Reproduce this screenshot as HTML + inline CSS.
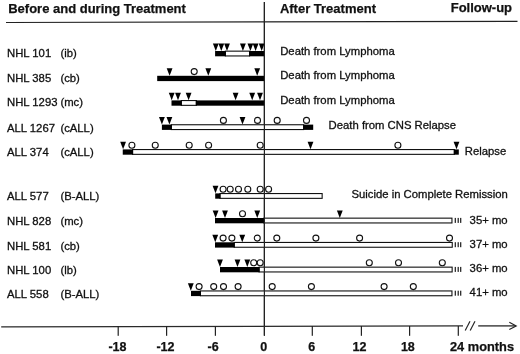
<!DOCTYPE html><html><head><meta charset="utf-8"><style>html,body{margin:0;padding:0;background:#fff;}svg{display:block;will-change:transform;}text{font-family:"Liberation Sans",sans-serif;fill:#111;} .r{stroke:#111;stroke-width:0.3px;} .b{stroke:#111;stroke-width:0.25px;}</style></head><body>
<svg width="520" height="354" viewBox="0 0 520 354">
<rect width="520" height="354" fill="#fff"/>
<text x="8.2" y="13.1" font-size="13" font-weight="bold" class="b">Before and during Treatment</text>
<text x="279.9" y="12.7" font-size="13" font-weight="bold" class="b">After Treatment</text>
<text x="450.7" y="12.4" font-size="13" font-weight="bold" class="b">Follow-up</text>
<line x1="6" y1="22.5" x2="517.5" y2="21.3" stroke="#222" stroke-width="1.2"/>
<rect x="263.80" y="2" width="1.2" height="333.7" fill="#222"/>
<text x="7" y="57.3" font-size="11.3" class="r">NHL 101</text>
<text x="60.4" y="57.3" font-size="11.3" class="r">(ib)</text>
<rect x="225.35" y="51.15" width="24.20" height="4.80" fill="#fff" stroke="#111" stroke-width="1.1"/>
<rect x="215.10" y="51.00" width="10.80" height="5.3" fill="#000"/>
<rect x="249.00" y="51.00" width="15.40" height="5.3" fill="#000"/>
<polygon points="212.90,43.40 218.70,43.40 215.80,50.90" fill="#000"/>
<polygon points="218.40,43.40 224.20,43.40 221.30,50.90" fill="#000"/>
<polygon points="224.10,43.40 229.90,43.40 227.00,50.90" fill="#000"/>
<polygon points="240.00,43.40 245.80,43.40 242.90,50.90" fill="#000"/>
<polygon points="247.50,43.40 253.30,43.40 250.40,50.90" fill="#000"/>
<polygon points="252.70,43.40 258.50,43.40 255.60,50.90" fill="#000"/>
<polygon points="258.80,43.40 264.60,43.40 261.70,50.90" fill="#000"/>
<text x="280.2" y="55.0" font-size="11.3" class="r">Death from Lymphoma</text>
<text x="7" y="82.3" font-size="11.3" class="r">NHL 385</text>
<text x="60.4" y="82.3" font-size="11.3" class="r">(cb)</text>
<rect x="157.20" y="75.80" width="107.20" height="5.3" fill="#000"/>
<polygon points="166.70,68.20 172.50,68.20 169.60,75.70" fill="#000"/>
<polygon points="205.40,68.20 211.20,68.20 208.30,75.70" fill="#000"/>
<polygon points="254.30,68.20 260.10,68.20 257.20,75.70" fill="#000"/>
<circle cx="194.20" cy="71.60" r="3.0" fill="#fff" stroke="#111" stroke-width="1.1"/>
<text x="280.2" y="79.3" font-size="11.3" class="r">Death from Lymphoma</text>
<text x="7" y="106.4" font-size="11.3" class="r">NHL 1293</text>
<text x="60.4" y="106.4" font-size="11.3" class="r">(mc)</text>
<rect x="181.25" y="100.55" width="15.10" height="4.80" fill="#fff" stroke="#111" stroke-width="1.1"/>
<rect x="171.50" y="100.40" width="10.30" height="5.3" fill="#000"/>
<rect x="195.80" y="100.40" width="68.60" height="5.3" fill="#000"/>
<polygon points="168.80,92.80 174.60,92.80 171.70,100.30" fill="#000"/>
<polygon points="175.10,92.80 180.90,92.80 178.00,100.30" fill="#000"/>
<polygon points="185.70,92.80 191.50,92.80 188.60,100.30" fill="#000"/>
<polygon points="232.70,92.80 238.50,92.80 235.60,100.30" fill="#000"/>
<polygon points="249.30,92.80 255.10,92.80 252.20,100.30" fill="#000"/>
<polygon points="257.10,92.80 262.90,92.80 260.00,100.30" fill="#000"/>
<text x="280.2" y="103.7" font-size="11.3" class="r">Death from Lymphoma</text>
<text x="7" y="132.0" font-size="11.3" class="r">ALL 1267</text>
<text x="60.4" y="132.0" font-size="11.3" class="r">(cALL)</text>
<rect x="171.35" y="124.75" width="132.30" height="4.80" fill="#fff" stroke="#111" stroke-width="1.1"/>
<rect x="161.90" y="124.60" width="10.00" height="5.3" fill="#000"/>
<rect x="303.10" y="124.60" width="10.10" height="5.3" fill="#000"/>
<polygon points="159.00,117.00 164.80,117.00 161.90,124.50" fill="#000"/>
<polygon points="166.50,117.00 172.30,117.00 169.40,124.50" fill="#000"/>
<polygon points="239.60,117.00 245.40,117.00 242.50,124.50" fill="#000"/>
<circle cx="223.40" cy="120.40" r="3.0" fill="#fff" stroke="#111" stroke-width="1.1"/>
<circle cx="257.50" cy="120.40" r="3.0" fill="#fff" stroke="#111" stroke-width="1.1"/>
<circle cx="277.20" cy="120.40" r="3.0" fill="#fff" stroke="#111" stroke-width="1.1"/>
<circle cx="306.50" cy="120.40" r="3.0" fill="#fff" stroke="#111" stroke-width="1.1"/>
<text x="328.6" y="129.2" font-size="11.3" class="r">Death from CNS Relapse</text>
<text x="7" y="156.0" font-size="11.3" class="r">ALL 374</text>
<text x="60.4" y="156.0" font-size="11.3" class="r">(cALL)</text>
<rect x="132.55" y="149.55" width="321.80" height="4.80" fill="#fff" stroke="#111" stroke-width="1.1"/>
<rect x="122.75" y="149.40" width="10.35" height="5.3" fill="#000"/>
<rect x="453.80" y="149.40" width="5.00" height="5.3" fill="#000"/>
<polygon points="120.20,141.80 126.00,141.80 123.10,149.30" fill="#000"/>
<polygon points="307.60,141.80 313.40,141.80 310.50,149.30" fill="#000"/>
<polygon points="453.60,141.80 459.40,141.80 456.50,149.30" fill="#000"/>
<circle cx="131.90" cy="145.20" r="3.0" fill="#fff" stroke="#111" stroke-width="1.1"/>
<circle cx="155.25" cy="145.20" r="3.0" fill="#fff" stroke="#111" stroke-width="1.1"/>
<circle cx="189.20" cy="145.20" r="3.0" fill="#fff" stroke="#111" stroke-width="1.1"/>
<circle cx="208.60" cy="145.20" r="3.0" fill="#fff" stroke="#111" stroke-width="1.1"/>
<circle cx="260.20" cy="145.20" r="3.0" fill="#fff" stroke="#111" stroke-width="1.1"/>
<circle cx="397.90" cy="145.20" r="3.0" fill="#fff" stroke="#111" stroke-width="1.1"/>
<text x="464.8" y="155.0" font-size="11.3" class="r">Relapse</text>
<text x="7" y="200.2" font-size="11.3" class="r">ALL 577</text>
<text x="60.4" y="200.2" font-size="11.3" class="r">(B-ALL)</text>
<rect x="219.95" y="193.55" width="102.20" height="4.80" fill="#fff" stroke="#111" stroke-width="1.1"/>
<rect x="215.20" y="193.40" width="5.30" height="5.3" fill="#000"/>
<polygon points="212.60,185.80 218.40,185.80 215.50,193.30" fill="#000"/>
<circle cx="223.10" cy="189.20" r="3.0" fill="#fff" stroke="#111" stroke-width="1.1"/>
<circle cx="230.20" cy="189.20" r="3.0" fill="#fff" stroke="#111" stroke-width="1.1"/>
<circle cx="238.50" cy="189.20" r="3.0" fill="#fff" stroke="#111" stroke-width="1.1"/>
<circle cx="247.80" cy="189.20" r="3.0" fill="#fff" stroke="#111" stroke-width="1.1"/>
<circle cx="260.20" cy="189.20" r="3.0" fill="#fff" stroke="#111" stroke-width="1.1"/>
<circle cx="268.60" cy="189.20" r="3.0" fill="#fff" stroke="#111" stroke-width="1.1"/>
<text x="351.5" y="198.0" font-size="11.3" class="r">Suicide in Complete Remission</text>
<text x="7" y="225.2" font-size="11.3" class="r">NHL 828</text>
<text x="60.4" y="225.2" font-size="11.3" class="r">(mc)</text>
<rect x="263.85" y="218.15" width="188.10" height="4.80" fill="#fff" stroke="#111" stroke-width="1.1"/>
<rect x="215.00" y="218.00" width="49.40" height="5.3" fill="#000"/>
<polygon points="212.70,210.40 218.50,210.40 215.60,217.90" fill="#000"/>
<polygon points="222.10,210.40 227.90,210.40 225.00,217.90" fill="#000"/>
<polygon points="254.35,210.40 260.15,210.40 257.25,217.90" fill="#000"/>
<polygon points="336.90,210.40 342.70,210.40 339.80,217.90" fill="#000"/>
<circle cx="242.50" cy="213.80" r="3.0" fill="#fff" stroke="#111" stroke-width="1.1"/>
<rect x="454.70" y="217.90" width="1.2" height="5.0" fill="#1a1a1a"/>
<rect x="457.60" y="217.90" width="1.2" height="5.0" fill="#1a1a1a"/>
<rect x="460.10" y="217.90" width="1.2" height="5.0" fill="#1a1a1a"/>
<text x="469.6" y="223.6" font-size="11.3" class="r">35+ mo</text>
<text x="7" y="249.7" font-size="11.3" class="r">NHL 581</text>
<text x="60.4" y="249.7" font-size="11.3" class="r">(cb)</text>
<rect x="234.20" y="242.45" width="218.05" height="4.80" fill="#fff" stroke="#111" stroke-width="1.1"/>
<rect x="215.00" y="242.30" width="19.75" height="5.3" fill="#000"/>
<polygon points="212.35,234.70 218.15,234.70 215.25,242.20" fill="#000"/>
<polygon points="239.35,234.70 245.15,234.70 242.25,242.20" fill="#000"/>
<circle cx="223.10" cy="238.10" r="3.0" fill="#fff" stroke="#111" stroke-width="1.1"/>
<circle cx="231.90" cy="238.10" r="3.0" fill="#fff" stroke="#111" stroke-width="1.1"/>
<circle cx="257.25" cy="238.10" r="3.0" fill="#fff" stroke="#111" stroke-width="1.1"/>
<circle cx="276.80" cy="238.10" r="3.0" fill="#fff" stroke="#111" stroke-width="1.1"/>
<circle cx="315.90" cy="238.10" r="3.0" fill="#fff" stroke="#111" stroke-width="1.1"/>
<circle cx="359.60" cy="238.10" r="3.0" fill="#fff" stroke="#111" stroke-width="1.1"/>
<circle cx="449.50" cy="238.10" r="3.0" fill="#fff" stroke="#111" stroke-width="1.1"/>
<rect x="454.70" y="242.20" width="1.2" height="5.0" fill="#1a1a1a"/>
<rect x="457.60" y="242.20" width="1.2" height="5.0" fill="#1a1a1a"/>
<rect x="460.10" y="242.20" width="1.2" height="5.0" fill="#1a1a1a"/>
<text x="469.6" y="248.0" font-size="11.3" class="r">37+ mo</text>
<text x="7" y="273.7" font-size="11.3" class="r">NHL 100</text>
<text x="60.4" y="273.7" font-size="11.3" class="r">(lb)</text>
<rect x="259.05" y="267.15" width="193.10" height="4.80" fill="#fff" stroke="#111" stroke-width="1.1"/>
<rect x="220.00" y="267.00" width="39.60" height="5.3" fill="#000"/>
<polygon points="217.10,259.40 222.90,259.40 220.00,266.90" fill="#000"/>
<polygon points="234.60,259.40 240.40,259.40 237.50,266.90" fill="#000"/>
<polygon points="244.40,259.40 250.20,259.40 247.30,266.90" fill="#000"/>
<circle cx="253.70" cy="262.80" r="3.0" fill="#fff" stroke="#111" stroke-width="1.1"/>
<circle cx="260.20" cy="262.80" r="3.0" fill="#fff" stroke="#111" stroke-width="1.1"/>
<circle cx="369.30" cy="262.80" r="3.0" fill="#fff" stroke="#111" stroke-width="1.1"/>
<circle cx="398.50" cy="262.80" r="3.0" fill="#fff" stroke="#111" stroke-width="1.1"/>
<circle cx="442.30" cy="262.80" r="3.0" fill="#fff" stroke="#111" stroke-width="1.1"/>
<rect x="454.70" y="266.90" width="1.2" height="5.0" fill="#1a1a1a"/>
<rect x="457.60" y="266.90" width="1.2" height="5.0" fill="#1a1a1a"/>
<rect x="460.10" y="266.90" width="1.2" height="5.0" fill="#1a1a1a"/>
<text x="469.6" y="272.2" font-size="11.3" class="r">36+ mo</text>
<text x="7" y="297.9" font-size="11.3" class="r">ALL 558</text>
<text x="60.4" y="297.9" font-size="11.3" class="r">(B-ALL)</text>
<rect x="200.45" y="290.95" width="251.50" height="4.80" fill="#fff" stroke="#111" stroke-width="1.1"/>
<rect x="191.00" y="290.80" width="10.00" height="5.3" fill="#000"/>
<polygon points="187.90,283.20 193.70,283.20 190.80,290.70" fill="#000"/>
<circle cx="199.10" cy="286.60" r="3.0" fill="#fff" stroke="#111" stroke-width="1.1"/>
<circle cx="213.70" cy="286.60" r="3.0" fill="#fff" stroke="#111" stroke-width="1.1"/>
<circle cx="223.50" cy="286.60" r="3.0" fill="#fff" stroke="#111" stroke-width="1.1"/>
<circle cx="238.10" cy="286.60" r="3.0" fill="#fff" stroke="#111" stroke-width="1.1"/>
<circle cx="272.20" cy="286.60" r="3.0" fill="#fff" stroke="#111" stroke-width="1.1"/>
<circle cx="311.40" cy="286.60" r="3.0" fill="#fff" stroke="#111" stroke-width="1.1"/>
<circle cx="384.10" cy="286.60" r="3.0" fill="#fff" stroke="#111" stroke-width="1.1"/>
<circle cx="413.30" cy="286.60" r="3.0" fill="#fff" stroke="#111" stroke-width="1.1"/>
<rect x="454.70" y="290.70" width="1.2" height="5.0" fill="#1a1a1a"/>
<rect x="457.60" y="290.70" width="1.2" height="5.0" fill="#1a1a1a"/>
<rect x="460.10" y="290.70" width="1.2" height="5.0" fill="#1a1a1a"/>
<text x="469.6" y="296.4" font-size="11.3" class="r">41+ mo</text>
<rect x="263.80" y="2" width="1.2" height="333.7" fill="#222"/>
<line x1="1.2" y1="326.9" x2="463" y2="325.8" stroke="#2a2a2a" stroke-width="1.25"/>
<rect x="117.60" y="326" width="1.2" height="9.8" fill="#222"/>
<rect x="166.00" y="326" width="1.2" height="9.8" fill="#222"/>
<rect x="214.80" y="326" width="1.2" height="9.8" fill="#222"/>
<rect x="311.70" y="326" width="1.2" height="9.8" fill="#222"/>
<rect x="360.80" y="326" width="1.2" height="9.8" fill="#222"/>
<rect x="409.00" y="326" width="1.2" height="9.8" fill="#222"/>
<rect x="457.70" y="326" width="1.2" height="9.8" fill="#222"/>
<text x="108.40" y="351.3" font-size="12.5" font-weight="bold" class="b">-18</text>
<text x="156.40" y="351.3" font-size="12.5" font-weight="bold" class="b">-12</text>
<text x="207.50" y="351.3" font-size="12.5" font-weight="bold" class="b">-6</text>
<text x="260.25" y="351.3" font-size="12.5" font-weight="bold" class="b">0</text>
<text x="308.25" y="351.3" font-size="12.5" font-weight="bold" class="b">6</text>
<text x="352.60" y="351.3" font-size="12.5" font-weight="bold" class="b">12</text>
<text x="400.90" y="351.3" font-size="12.5" font-weight="bold" class="b">18</text>
<text x="450.0" y="351.3" font-size="12.8" font-weight="bold" class="b">24 months</text>
<line x1="465.2" y1="330.6" x2="470.0" y2="321.3" stroke="#222" stroke-width="1.15"/>
<line x1="470.2" y1="330.6" x2="475.0" y2="321.3" stroke="#222" stroke-width="1.15"/>
<rect x="478.2" y="325.25" width="37.3" height="1.3" fill="#2a2a2a"/>
<polyline points="509.3,322.3 516.2,325.9 509.3,329.4" fill="none" stroke="#222" stroke-width="1.15"/>
</svg></body></html>
